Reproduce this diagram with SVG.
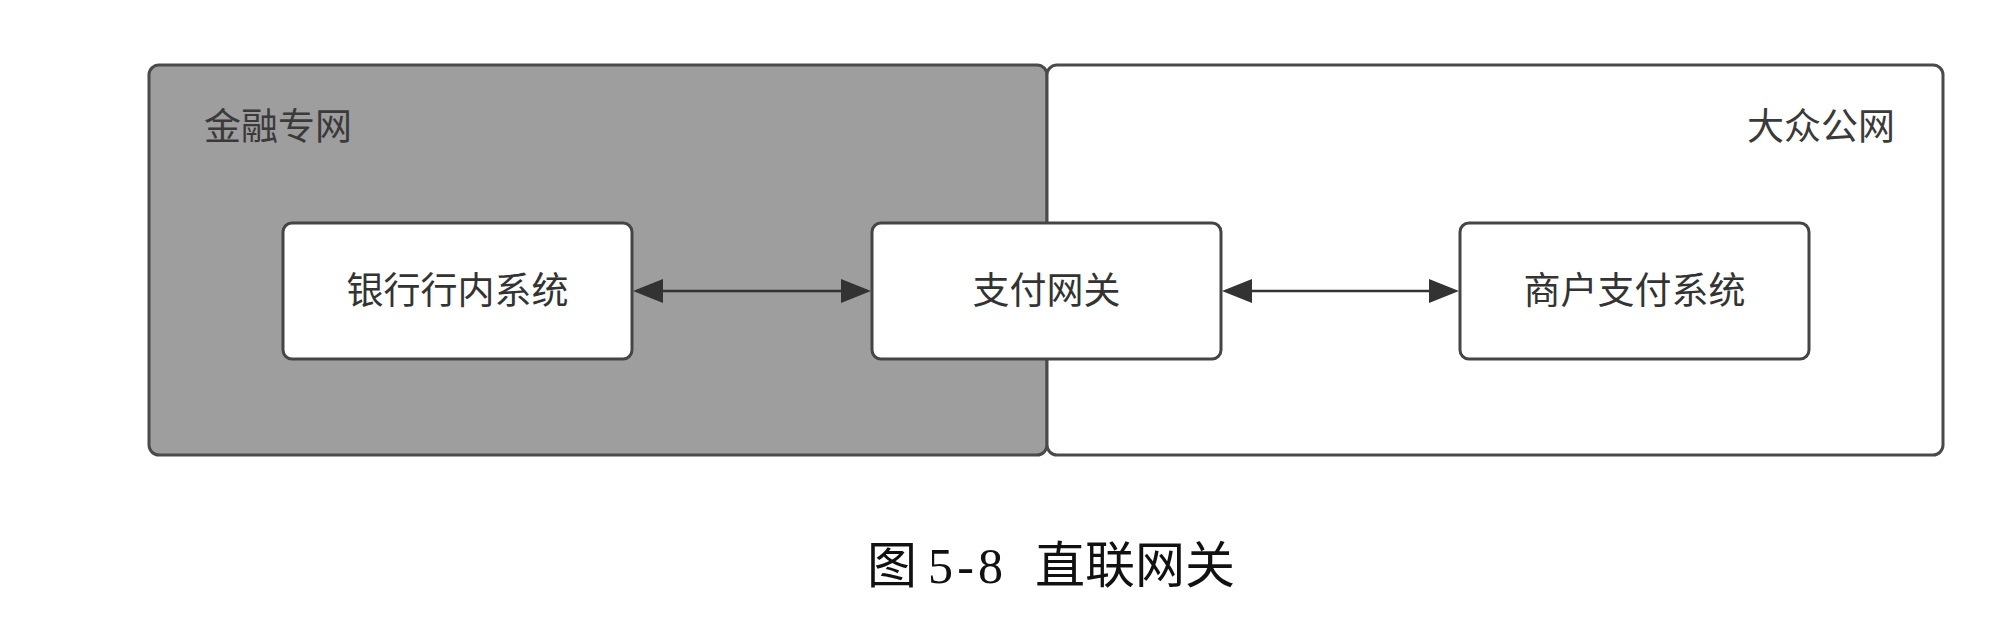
<svg xmlns="http://www.w3.org/2000/svg" width="1998" height="632" viewBox="0 0 1998 632">
<defs>
<style>
.cont{stroke:#4a4a4a;stroke-width:3}
.node{fill:#ffffff;stroke:#454545;stroke-width:3}
.lbl{font-family:"Noto Sans CJK SC","Liberation Sans",sans-serif;font-size:37px;fill:#3a3a3a}
.ntxt{font-family:"Noto Sans CJK SC","Liberation Sans",sans-serif;font-size:37px;fill:#333333;text-anchor:middle}
.cap{font-family:"Liberation Serif","Noto Sans CJK SC",serif;font-size:50px;fill:#111111}
.conn{stroke:#333333;stroke-width:2.5;fill:none}
.head{fill:#333333}
</style>
</defs>
<rect width="1998" height="632" fill="#ffffff"/>
<g id="zone-finance">
<rect class="cont" x="149" y="65" width="898" height="390" rx="10" fill="#9e9e9e"/>
<text class="lbl" x="204" y="140">金融专网</text>
</g>
<g id="zone-public">
<rect class="cont" x="1047" y="65" width="896" height="390" rx="10" fill="#ffffff"/>
<text class="lbl" x="1895" y="140" text-anchor="end">大众公网</text>
</g>
<g id="connectors">
<line class="conn" x1="640" y1="291" x2="864" y2="291"/>
<path class="head" d="M633,291 L663,279 L663,303 Z"/>
<path class="head" d="M871,291 L841,279 L841,303 Z"/>
<line class="conn" x1="1229" y1="291" x2="1452" y2="291"/>
<path class="head" d="M1222,291 L1252,279 L1252,303 Z"/>
<path class="head" d="M1459,291 L1429,279 L1429,303 Z"/>
</g>
<g id="node-bank">
<rect class="node" x="283" y="223" width="349" height="136" rx="9"/>
<text class="ntxt" x="457.5" y="304">银行行内系统</text>
</g>
<g id="node-gateway">
<rect class="node" x="872" y="223" width="349" height="136" rx="9"/>
<text class="ntxt" x="1046.5" y="304">支付网关</text>
</g>
<g id="node-merchant">
<rect class="node" x="1460" y="223" width="349" height="136" rx="9"/>
<text class="ntxt" x="1634.5" y="304">商户支付系统</text>
</g>
<g id="caption">
<text class="cap" x="867" y="583">图</text>
<text class="cap" x="928" y="583" textLength="75" lengthAdjust="spacing">5-8</text>
<text class="cap" x="1035" y="583">直联网关</text>
</g>
</svg>
